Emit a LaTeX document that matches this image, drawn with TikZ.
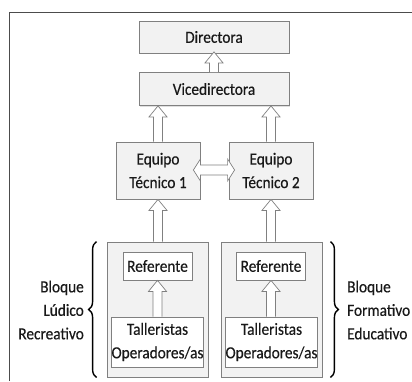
\documentclass[tikz,border=0pt]{standalone}
\usepackage{fontspec}
\setmainfont{Carlito}[FakeStretch=0.9,FakeBold=0.4]
\usetikzlibrary{decorations.pathreplacing,shadows}
\newcommand\hollowup[2]{%
  \fill[white] ([xshift=-4.5pt]#1) -- ([xshift=-4.5pt,yshift=-11pt]#2) -- ([xshift=-9pt,yshift=-11pt]#2) -- (#2) -- ([xshift=9pt,yshift=-11pt]#2) -- ([xshift=4.5pt,yshift=-11pt]#2) -- ([xshift=4.5pt]#1) -- cycle;
  \draw[harrow] ([xshift=-4.5pt]#1) -- ([xshift=-4.5pt,yshift=-11pt]#2) -- ([xshift=-9pt,yshift=-11pt]#2) -- (#2) -- ([xshift=9pt,yshift=-11pt]#2) -- ([xshift=4.5pt,yshift=-11pt]#2) -- ([xshift=4.5pt]#1);}
\begin{document}
\begin{tikzpicture}[x=1pt,y=-1pt,
  font=\fontsize{17}{23.5}\selectfont, text=black!90,
  box/.style={draw=gray, line width=0.8pt, fill=gray!10, align=center, inner sep=0pt,
    drop shadow={shadow xshift=1pt, shadow yshift=-1pt, opacity=0.25}},
  block/.style={draw=gray, line width=0.8pt, fill=gray!10, inner sep=0pt},
  whitebox/.style={draw=gray, line width=0.8pt, fill=white, align=center, inner sep=0pt},
  harrow/.style={draw=gray, line width=0.7pt, line join=miter},
  bracesty/.style={decorate, decoration={brace, amplitude=8pt}, line width=1.4pt}]
\useasboundingbox (0,0) rectangle (412,381);
\draw[line width=1pt, gray!60!black] (9,381) -- (9,12) -- (412,12);

\node[box, minimum width=150pt, minimum height=32pt] (dir) at (214,37) {Directora};
\node[box, minimum width=150pt, minimum height=33pt] (vice) at (214,89) {Vicedirectora};
\node[box, minimum width=84pt, minimum height=57pt] (eq1) at (158,170.5) {Equipo\\Técnico 1};
\node[box, minimum width=84pt, minimum height=57pt] (eq2) at (271,170.5) {Equipo\\Técnico 2};

\node[block, minimum width=101pt, minimum height=135pt] (blk1) at (157.5,309.5) {};
\node[block, minimum width=101pt, minimum height=135pt] (blk2) at (271.5,309.5) {};
\node[whitebox, minimum width=69pt, minimum height=28pt] (ref1) at (157.5,266) {Referente};
\node[whitebox, minimum width=69pt, minimum height=28pt] (ref2) at (271,266) {Referente};
\node[whitebox, minimum width=92pt, minimum height=50pt] (tal1) at (157.5,342) {Talleristas\\Operadores/as};
\node[whitebox, minimum width=92pt, minimum height=50pt] (tal2) at (271.5,342) {Talleristas\\Operadores/as};

\coordinate (t0) at ([yshift=1.5pt]dir.south);
\coordinate (t1) at (eq1.north |- vice.south);
\coordinate (t2) at (eq2.north |- vice.south);
\coordinate (b1) at (eq1.south |- blk1.north);
\coordinate (b2) at (eq2.south |- blk2.north);
\coordinate (r1) at (ref1.south |- tal1.north);
\coordinate (r2) at (ref2.south |- tal2.north);
\hollowup{vice.north}{t0}
\hollowup{eq1.north}{t1}
\hollowup{eq2.north}{t2}
\hollowup{b1}{eq1.south}
\hollowup{b2}{eq2.south}
\hollowup{r1}{ref1.south}
\hollowup{r2}{ref2.south}

\coordinate (dl) at ([xshift=-7pt,yshift=0.5pt]eq1.east);
\coordinate (dr) at ([xshift=6pt,yshift=0.5pt]eq2.west);
\draw[harrow, fill=white] (dl) -- ([xshift=7pt,yshift=11pt]dl) -- ([xshift=7pt,yshift=5pt]dl) -- ([xshift=-7pt,yshift=5pt]dr) -- ([xshift=-7pt,yshift=11pt]dr) -- (dr) -- ([xshift=-7pt,yshift=-11pt]dr) -- ([xshift=-7pt,yshift=-5pt]dr) -- ([xshift=7pt,yshift=-5pt]dl) -- ([xshift=7pt,yshift=-11pt]dl) -- cycle;

\coordinate (lb1) at ([xshift=-10pt]blk1.south west);
\coordinate (lb2) at ([xshift=-10pt]blk1.north west);
\coordinate (rb1) at ([xshift=8pt]blk2.north east);
\coordinate (rb2) at ([xshift=8pt]blk2.south east);
\draw[bracesty] (lb1) -- (lb2);
\draw[bracesty] (rb1) -- (rb2);

\node[anchor=east, align=right, inner sep=0pt] (lbl1) at (84,310) {Bloque\\Lúdico\\Recreativo};
\node[anchor=west, align=left, inner sep=0pt] (lbl2) at (347,310) {Bloque\\Formativo\\Educativo};
\end{tikzpicture}
\end{document}
